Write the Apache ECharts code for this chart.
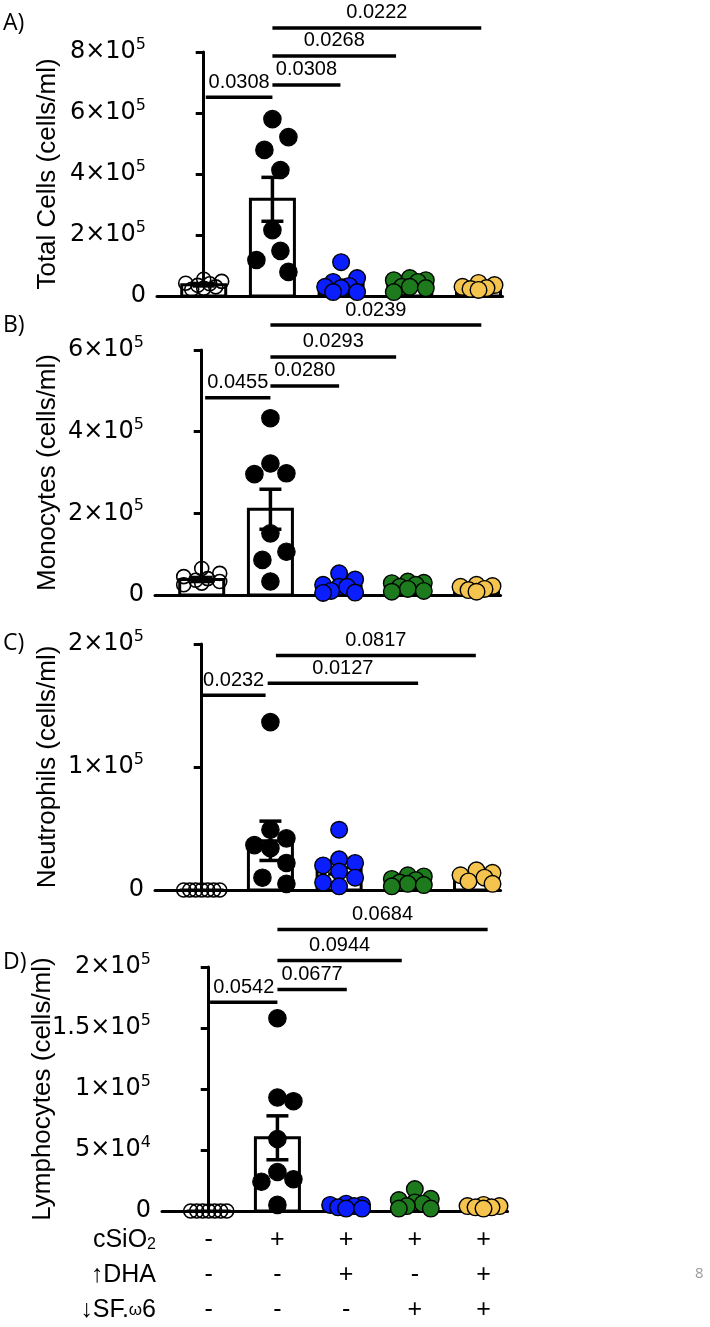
<!DOCTYPE html>
<html><head><meta charset="utf-8">
<script src="https://cdn.jsdelivr.net/npm/echarts/dist/echarts.min.js"></script>
<style>html,body{margin:0;padding:0;background:#fff}#c{width:710px;height:1327px}</style>
</head><body><div id="c"></div>
<script>
// ---------- DATA ----------
const groups = ['Vehicle', 'cSiO2', 'cSiO2 + ↑DHA', 'cSiO2 + ↓SF.ω6', 'cSiO2 + ↑DHA + ↓SF.ω6'];

// A) Total cells (cells/ml)
const totalCtrl = [55000, 48000, 42000, 40000, 35000, 30000, 25000, 22000];
const totalSil  = [580000, 521000, 479000, 413000, 216000, 148000, 118000, 79000];
const totalDha  = [111000, 59000, 46000, 33000, 30000, 26000, 13000, 13000];
const totalSf   = [59000, 52000, 52000, 46000, 30000, 30000, 26000, 13000];
const totalBoth = [43000, 36000, 30000, 26000, 23000, 20000];
const totalMean = [37000, 317000, 41000, 38000, 30000];
const totalSem  = [4000, 72000, 11000, 6000, 4000];
const totalSig  = [[0.03, 1, 652000, '0.0308'], [1, 1.99, 692000, '0.0308'], [1, 2.80, 787000, '0.0268'], [1, 4.04, 879000, '0.0222']];
const totalTicks = [0, 200000, 400000, 600000, 800000];

// B) Monocytes
const monoCtrl = [65000, 53000, 45000, 40000, 36000, 33000, 29000, 25000];
const monoSil  = [433000, 322000, 298000, 296000, 151000, 106000, 86000, 33000];
const monoDha  = [53000, 38000, 25000, 20000, 20000, 10000, 6000, 5000];
const monoSf   = [33000, 30000, 29000, 25000, 20000, 15000, 10000, 8000];
const monoBoth = [25000, 22000, 20000, 15000, 12000, 8000];
const monoMean = [38000, 210000, 22000, 21000, 17000];
const monoSem  = [5000, 49000, 6000, 3500, 2500];
const monoSig  = [[0.05, 1, 483000, '0.0455'], [1, 2.0, 512000, '0.0280'], [1, 2.83, 583000, '0.0293'], [1, 4.07, 661000, '0.0239']];
const monoTicks = [0, 200000, 400000, 600000];

// C) Neutrophils
const neutCtrl = [0, 0, 0, 0, 0, 0, 0];
const neutSil  = [136500, 49000, 42000, 36500, 34000, 22000, 10000, 5000];
const neutDha  = [49000, 25000, 22000, 20000, 15000, 10000, 6000, 3000];
const neutSf   = [12000, 11000, 9000, 8000, 6000, 5000, 4000, 3000];
const neutBoth = [16000, 14000, 12000, 10000, 7000, 5000];
const neutMean = [0, 40000, 18000, 7000, 11000];
const neutSem  = [0, 16000, 5000, 1200, 1700];
const neutSig  = [[0, 0.93, 158400, '0.0232'], [0.96, 3.15, 168000, '0.0127'], [1.08, 3.99, 190600, '0.0817']];
const neutTicks = [0, 100000, 200000];

// D) Lymphocytes
const lymCtrl = [0, 0, 0, 0, 0, 0, 0];
const lymSil  = [158000, 93000, 90000, 59000, 32000, 26000, 24000, 5000];
const lymDha  = [6000, 5000, 5000, 4000, 3000, 2000, 2000];
const lymSf   = [18000, 10000, 9000, 7000, 6000, 4000, 2000, 2000];
const lymBoth = [5000, 4000, 4000, 3000, 3000, 2000];
const lymMean = [0, 60000, 4000, 7000, 3500];
const lymSem  = [0, 18000, 600, 1800, 500];
const lymSig  = [[0.02, 1, 171100, '0.0542'], [1, 2.01, 181500, '0.0677'], [1, 2.81, 205300, '0.0944'], [1, 4.06, 230700, '0.0684']];
const lymTicks = [0, 50000, 100000, 150000, 200000];

// treatment table under the chart
const rowLabels = ['cSiO{sub|2}', '↑DHA', '↓SF.{w|ω}6'];
const rowCSiO2 = ['-', '+', '+', '+', '+'];
const rowDHA   = ['-', '-', '+', '-', '+'];
const rowSF    = ['-', '-', '-', '+', '+'];

// ---------- STYLE / LAYOUT ----------
const FONT = '"Liberation Sans", Arial, sans-serif';
const TICK_FONT = '"DejaVu Sans", sans-serif';
const X_MIN = -0.68, X_MAX = 4.35;
const GROUP_STYLE = [
  {fill: 'rgba(0,0,0,0)', r: 7, lw: 1.6, d: 15, step: 6, maxOff: 18},
  {fill: '#000000', r: 8.7, lw: 1.2, d: 22, step: 8, maxOff: 16},
  {fill: '#0a1eff', r: 8.3, lw: 1.4, d: 19, step: 8, maxOff: 16},
  {fill: '#1d7a1d', r: 8.3, lw: 1.4, d: 19, step: 8, maxOff: 16},
  {fill: '#f5c44e', r: 8.3, lw: 1.4, d: 19, step: 8, maxOff: 16}
];
const panels = [
  {letter: 'A)', title: 'Total Cells (cells/ml)', ticks: totalTicks, vals: [totalCtrl, totalSil, totalDha, totalSf, totalBoth], mean: totalMean, sem: totalSem, sig: totalSig,
   grid: {left: 157, top: 52, height: 244}, nameGap: 96, letterY: 23},
  {letter: 'B)', title: 'Monocytes (cells/ml)', ticks: monoTicks, vals: [monoCtrl, monoSil, monoDha, monoSf, monoBoth], mean: monoMean, sem: monoSem, sig: monoSig,
   grid: {left: 155, top: 350, height: 245}, nameGap: 94, letterY: 325},
  {letter: 'C)', title: 'Neutrophils (cells/ml)', ticks: neutTicks, vals: [neutCtrl, neutSil, neutDha, neutSf, neutBoth], mean: neutMean, sem: neutSem, sig: neutSig,
   grid: {left: 155, top: 644, height: 246}, nameGap: 94, letterY: 643},
  {letter: 'D)', title: 'Lymphocytes (cells/ml)', ticks: lymTicks, vals: [lymCtrl, lymSil, lymDha, lymSf, lymBoth], mean: lymMean, sem: lymSem, sig: lymSig,
   grid: {left: 162, top: 967, height: 244}, nameGap: 106, letterY: 962}
];
const PX_PER_UNIT = 68.7;
const GRID_W = (X_MAX - X_MIN) * PX_PER_UNIT;

function sci(v) {
  if (v === 0) return '{m|0}';
  const e = Math.floor(Math.log10(v) + 1e-9);
  const m = +(v / Math.pow(10, e)).toFixed(2);
  return '{m|' + m + '×10}{s|' + e + '}';
}

function swarm(ys, d, step, maxOff) {
  const order = ys.map((y, i) => i).sort((a, b) => ys[a] - ys[b]);
  const cands = [0];
  for (let k = 1; k * step <= maxOff + 0.01; k++) cands.push(k * step, -k * step);
  const placed = [], off = new Array(ys.length).fill(0);
  for (const i of order) {
    let best = 0, bestScore = -1;
    for (const c of cands) {
      let mind = Infinity;
      for (const p of placed) { const dd = Math.hypot(c - p.x, ys[i] - p.y); if (dd < mind) mind = dd; }
      if (mind >= d) { best = c; bestScore = Infinity; break; }
      if (mind > bestScore + 0.5) { bestScore = mind; best = c; }
    }
    off[i] = best; placed.push({x: best, y: ys[i]});
  }
  return off;
}

const grids = [], xAxes = [], yAxes = [], series = [];
panels.forEach((p, gi) => {
  grids.push({left: p.grid.left, top: p.grid.top, height: p.grid.height, width: GRID_W});
  xAxes.push({
    gridIndex: gi, type: 'value', min: X_MIN, max: X_MAX,
    axisLine: {show: true, onZero: true, lineStyle: {color: '#000', width: 3}},
    axisTick: {show: false}, axisLabel: {show: false}, splitLine: {show: false}
  });
  const tmax = p.ticks[p.ticks.length - 1];
  yAxes.push({
    gridIndex: gi, type: 'value', min: 0, max: tmax, interval: p.ticks[1] - p.ticks[0],
    axisLine: {show: true, lineStyle: {color: '#000', width: 3}},
    axisTick: {show: true, length: 8, lineStyle: {color: '#000', width: 3}},
    splitLine: {show: false},
    axisLabel: {
      margin: 11, formatter: sci, color: '#000',
      rich: {
        m: {fontSize: 24, fontFamily: TICK_FONT, color: '#000', lineHeight: 30},
        s: {fontSize: 16, fontFamily: TICK_FONT, color: '#000', lineHeight: 18, verticalAlign: 'top'}
      }
    },
    name: p.title, nameLocation: 'middle', nameGap: p.nameGap, nameMoveOverlap: false,
    nameTextStyle: {fontSize: 26, fontFamily: FONT, color: '#000'}
  });
  // bars (mean)
  series.push({
    type: 'custom', xAxisIndex: gi, yAxisIndex: gi, z: 2, silent: true,
    data: p.mean.map((m, i) => [i, m]),
    renderItem(params, api) {
      const top = api.coord([api.value(0), api.value(1)]);
      const base = api.coord([api.value(0), 0]);
      const w = 44;
      return {type: 'rect', shape: {x: top[0] - w / 2, y: top[1], width: w, height: base[1] - top[1]},
        style: {fill: '#fff', stroke: '#000', lineWidth: 3}};
    }
  });
  // error bars (SEM)
  series.push({
    type: 'custom', xAxisIndex: gi, yAxisIndex: gi, z: 4, silent: true,
    data: p.mean.map((m, i) => [i, m, p.sem[i]]),
    renderItem(params, api) {
      const x = api.value(0), m = api.value(1), s = api.value(2);
      if (!s) return null;
      const hi = api.coord([x, m + s]), lo = api.coord([x, m - s]);
      const cw = 11;
      const st = {stroke: '#000', lineWidth: 3.5};
      return {type: 'group', children: [
        {type: 'line', shape: {x1: hi[0], y1: hi[1], x2: lo[0], y2: lo[1]}, style: st},
        {type: 'line', shape: {x1: hi[0] - cw, y1: hi[1], x2: hi[0] + cw, y2: hi[1]}, style: st},
        {type: 'line', shape: {x1: lo[0] - cw, y1: lo[1], x2: lo[0] + cw, y2: lo[1]}, style: st}
      ]};
    }
  });
  // points
  p.vals.forEach((values, g) => {
    const st = GROUP_STYLE[g];
    let cache = null;
    series.push({
      type: 'custom', xAxisIndex: gi, yAxisIndex: gi, z: 5, silent: true,
      data: values.map(v => [g, v]),
      renderItem(params, api) {
        if (params.dataIndex === 0 || !cache) {
          const ys = values.map(v => api.coord([g, v])[1]);
          cache = swarm(ys, st.d, st.step, st.maxOff);
        }
        const c = api.coord([api.value(0), api.value(1)]);
        return {type: 'circle', shape: {cx: c[0] + cache[params.dataIndex], cy: c[1], r: st.r},
          style: {fill: st.fill, stroke: '#000', lineWidth: st.lw}};
      }
    });
  });
  // significance bars
  const sig = p.sig;
  series.push({
    type: 'custom', xAxisIndex: gi, yAxisIndex: gi, z: 6, silent: true, clip: false,
    data: sig.map(s => [s[0], s[1], s[2]]),
    renderItem(params, api) {
      const a = api.coord([api.value(0), api.value(2)]);
      const b = api.coord([api.value(1), api.value(2)]);
      return {type: 'group', children: [
        {type: 'line', shape: {x1: a[0], y1: a[1], x2: b[0], y2: b[1]}, style: {stroke: '#000', lineWidth: 3.5}},
        {type: 'text', style: {text: sig[params.dataIndex][3], x: (a[0] + b[0]) / 2, y: a[1] - 5, align: 'center', verticalAlign: 'bottom',
          fontSize: 20, fontFamily: FONT, fill: '#000'}}
      ]};
    }
  });
});

// treatment table below panel D
const tableRows = [rowCSiO2, rowDHA, rowSF];
series.push({
  type: 'custom', xAxisIndex: 3, yAxisIndex: 3, z: 6, silent: true, clip: false,
  data: tableRows.map((r, k) => [k]),
  renderItem(params, api) {
    const k = params.dataIndex;
    const base = api.coord([0, 0])[1];
    const y = base + 29 + k * 35;
    const kids = [];
    const lx = api.coord([X_MIN, 0])[0] - 6;
    kids.push({type: 'text', style: {text: rowLabels[k], x: lx, y: y, align: 'right', verticalAlign: 'middle',
      fontSize: 25, fontFamily: FONT, fill: '#000',
      rich: {sub: {fontSize: 16, fontFamily: FONT, verticalAlign: 'bottom', lineHeight: 14},
             w: {fontSize: 17, fontFamily: FONT}}}});
    tableRows[k].forEach((t, i) => {
      const x = api.coord([i, 0])[0];
      kids.push({type: 'text', style: {text: t, x: x, y: y, align: 'center', verticalAlign: 'middle',
        fontSize: 25, fontFamily: FONT, fill: '#000'}});
    });
    return {type: 'group', children: kids};
  }
});

const graphics = panels.map(p => ({type: 'text', left: 3, top: p.letterY - 11,
  style: {text: p.letter, fontSize: 23, fontFamily: '"Open Sans", sans-serif', fill: '#000'}}));
graphics.push({type: 'text', left: 695, top: 1266, style: {text: '8', fontSize: 15, fontFamily: '"Open Sans", sans-serif', fill: '#9a9a9a'}});

const chart = echarts.init(document.getElementById('c'), null, {renderer: 'canvas'});
chart.setOption({
  backgroundColor: '#fff',
  animation: false,
  grid: grids, xAxis: xAxes, yAxis: yAxes, series: series, graphic: graphics
});
</script>
</body></html>
